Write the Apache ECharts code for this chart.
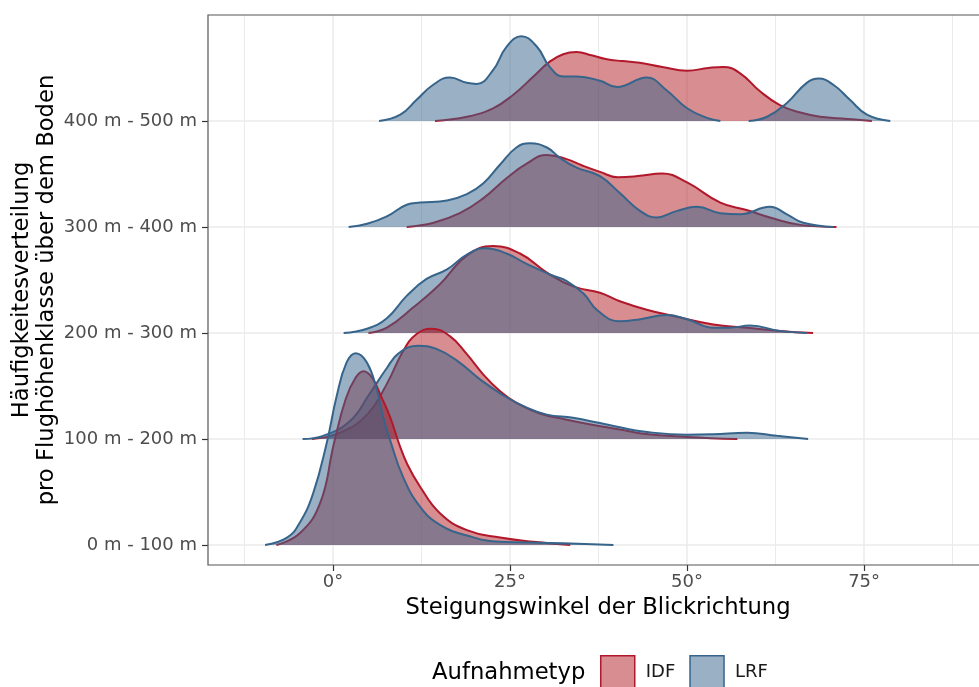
<!DOCTYPE html>
<html><head><meta charset="utf-8">
<script src="https://cdn.jsdelivr.net/npm/echarts@6/dist/echarts.min.js"></script>
<style>html,body{margin:0;padding:0;background:#fff}#c{width:979px;height:687px}</style>
</head><body><div id="c"></div>
<script>
// Ridge categories (bottom to top)
const categories = ['0 m - 100 m', '100 m - 200 m', '200 m - 300 m', '300 m - 400 m', '400 m - 500 m'];
const xTicks = [0, 25, 50, 75];
const xMinorTicks = [-12.5, 12.5, 37.5, 62.5, 87.5];
const seriesNames = ['IDF', 'LRF'];

// [angle in degrees, ridge height (1 = spacing between ridges)]
const idf_0_100 = [[-8,0],[-4.7,0.11],[-1.8,0.40],[0.1,0.95],[1.8,1.38],[3.2,1.58],[4.3,1.64],[5.5,1.58],[6.8,1.40],[8.1,1.20],[9.3,0.96],[10.5,0.76],[12.3,0.55],[15.1,0.30],[18.9,0.14],[23.6,0.07],[28.3,0.03],[33.5,0]];
const lrf_0_100 = [[-9.6,0],[-6.5,0.07],[-4.7,0.21],[-2.8,0.49],[-0.9,0.96],[0.5,1.40],[1.9,1.72],[3.2,1.81],[4.8,1.72],[6.2,1.46],[7.1,1.20],[8.1,0.98],[9.9,0.64],[12.3,0.36],[15.1,0.19],[18.9,0.09],[23.6,0.03],[30.6,0.02],[39.6,0]];
const idf_100_200 = [[-3.0,0],[1.0,0.06],[4.8,0.23],[7.6,0.52],[9.9,0.83],[11.8,0.99],[13.9,1.04],[16.5,0.97],[18.9,0.80],[21.2,0.61],[23.6,0.45],[25.9,0.34],[29.2,0.24],[32.5,0.19],[36.2,0.14],[40.5,0.09],[43.8,0.05],[50,0.02],[57.1,0]];
const lrf_100_200 = [[-4.3,0],[-1.4,0.03],[2.4,0.17],[5.1,0.42],[7.6,0.67],[9.3,0.81],[12.0,0.88],[14.6,0.85],[17.5,0.74],[20.8,0.56],[24.1,0.41],[26.9,0.31],[30.2,0.23],[33.9,0.20],[37.7,0.15],[40.5,0.11],[43.8,0.07],[50,0.04],[53.7,0.045],[58.5,0.06],[62.7,0.03],[67.1,0]];
const idf_200_300 = [[5,0],[7.6,0.05],[11.3,0.24],[15.1,0.46],[18.9,0.73],[22.6,0.82],[26.4,0.75],[30.2,0.57],[33.9,0.44],[37.7,0.38],[40.5,0.30],[44.3,0.22],[48.1,0.16],[53.7,0.08],[58.4,0.05],[63.1,0.02],[67.8,0]];
const lrf_200_300 = [[1.5,0],[4.8,0.04],[7.6,0.14],[10.4,0.35],[13.2,0.51],[16.1,0.60],[18.9,0.74],[21.5,0.80],[24.5,0.75],[27.4,0.65],[31.1,0.54],[33,0.49],[35.4,0.37],[37.4,0.21],[40.5,0.11],[43.4,0.13],[47.1,0.17],[50,0.13],[53.7,0.05],[56,0.05],[58.9,0.07],[63.1,0.02],[66.9,0]];
const idf_300_400 = [[10.4,0],[14.2,0.04],[17.9,0.13],[21.2,0.27],[24.5,0.46],[27.4,0.60],[30.2,0.68],[33,0.64],[35.2,0.58],[37.7,0.52],[40.2,0.47],[43,0.48],[46.5,0.505],[50,0.42],[54.7,0.23],[58.4,0.16],[62.2,0.08],[66,0.02],[71.1,0]];
const lrf_300_400 = [[2.2,0],[4.8,0.03],[7.6,0.10],[10.4,0.21],[12.3,0.23],[16.1,0.25],[18.9,0.31],[21.2,0.41],[23.6,0.59],[25.9,0.75],[27.8,0.79],[30.2,0.75],[32.1,0.65],[34.4,0.56],[37.7,0.48],[40.5,0.32],[43.4,0.15],[45.7,0.09],[48.5,0.15],[51.4,0.19],[54.7,0.13],[57.5,0.12],[61.7,0.19],[64.1,0.12],[66.4,0.04],[70.7,0]];
const idf_400_500 = [[14.4,0],[18.9,0.04],[22.6,0.12],[25.5,0.25],[28.3,0.42],[30.6,0.56],[32.5,0.63],[34.4,0.65],[36.5,0.62],[38.5,0.585],[40.8,0.565],[43.3,0.55],[46.5,0.51],[50,0.475],[53,0.50],[55.1,0.51],[57.5,0.45],[60.3,0.28],[63.1,0.15],[66,0.08],[68.8,0.04],[72.6,0.02],[76.1,0]];
const lrf_400_500 = [[6.5,0],[9.5,0.06],[11.8,0.20],[14.1,0.34],[16.5,0.41],[18.9,0.36],[20.3,0.35],[22.6,0.48],[24.5,0.70],[26.6,0.80],[28.8,0.70],[30.6,0.51],[32.5,0.42],[34.4,0.42],[37.7,0.38],[40.1,0.32],[44.3,0.41],[47.1,0.29],[50,0.12],[52.8,0.03],[54.7,0],null,[58.7,0],[61.3,0.04],[64.1,0.17],[66.9,0.36],[68.6,0.40],[70.7,0.34],[73,0.20],[75.4,0.06],[78.7,0]];

const idfRidges = [idf_0_100, idf_100_200, idf_200_300, idf_300_400, idf_400_500];
const lrfRidges = [lrf_0_100, lrf_100_200, lrf_200_300, lrf_300_400, lrf_400_500];

const FONT = 'DejaVu Sans';
const colIDF = {line: '#B2182B', fill: 'rgba(178,28,36,0.5)'};
const colLRF = {line: '#36648B', fill: 'rgba(54,100,139,0.5)'};

function ridgeSeries(name, arr, k, col, z) {
  return {
    type: 'line', name: name, xAxisIndex: 0, yAxisIndex: 0,
    data: arr.map(p => p === null ? ['-', '-'] : [p[0], k + p[1]]),
    smooth: 0.45, showSymbol: false, symbol: 'none',
    connectNulls: false, silent: true, z: z,
    color: col.line,
    lineStyle: {color: col.line, width: 2},
    areaStyle: {color: col.fill, opacity: 1, origin: k},
    itemStyle: {color: col.fill, borderColor: col.line}
  };
}

const series = [];
let z = 2;
for (let k = categories.length - 1; k >= 0; k--) {
  series.push(ridgeSeries(seriesNames[0], idfRidges[k], k, colIDF, z++));
  series.push(ridgeSeries(seriesNames[1], lrfRidges[k], k, colLRF, z++));
}

const chart = echarts.init(document.getElementById('c'), null, {renderer: 'canvas'});
chart.setOption({
  animation: false,
  backgroundColor: '#fff',
  textStyle: {fontFamily: FONT},
  grid: {left: 208, top: 15, right: -9, bottom: 122, outerBoundsMode: 'none', containLabel: false,
         show: true, borderColor: '#555', borderWidth: 1.2, backgroundColor: 'transparent', z: 20},
  xAxis: [{
    type: 'value', min: -17.66, max: 92.5, position: 'bottom',
    name: 'Steigungswinkel der Blickrichtung', nameLocation: 'middle', nameGap: 32, nameMoveOverlap: false,
    nameTextStyle: {fontSize: 22.7, color: '#000', fontFamily: FONT},
    axisLine: {show: false, onZero: false},
    axisTick: {show: true, customValues: xTicks, length: 6, lineStyle: {color: '#333', width: 1.2}},
    axisLabel: {customValues: xTicks, formatter: v => v + '°', fontSize: 18, color: '#4D4D4D', margin: 8, fontFamily: FONT},
    splitLine: {show: true, lineStyle: {color: '#EBEBEB', width: 1.5}}
  }, {
    type: 'value', min: -17.66, max: 92.5, position: 'bottom',
    axisLine: {show: false, onZero: false},
    axisTick: {show: false, customValues: xMinorTicks},
    axisLabel: {show: false},
    splitLine: {show: true, lineStyle: {color: '#EBEBEB', width: 1}}
  }],
  yAxis: [{
    type: 'value', min: -0.1887, max: 5.0,
    name: 'Häufigkeitesverteilung\npro Flughöhenklasse über dem Boden',
    nameLocation: 'middle', nameGap: 148, nameMoveOverlap: false,
    nameTextStyle: {fontSize: 22.7, color: '#000', lineHeight: 25, fontFamily: FONT},
    axisLine: {show: false, onZero: false},
    axisTick: {show: true, customValues: [0,1,2,3,4], length: 6, lineStyle: {color: '#333', width: 1.2}},
    axisLabel: {customValues: [0,1,2,3,4], formatter: v => categories[Math.round(v)], fontSize: 18, color: '#4D4D4D', margin: 11, fontFamily: FONT},
    splitLine: {show: true, lineStyle: {color: '#EBEBEB', width: 1.5}}
  }],
  legend: {
    left: 600, top: 655, orient: 'horizontal', padding: 0,
    itemWidth: 34, itemHeight: 34, itemGap: 14, selectedMode: false,
    textStyle: {fontSize: 18, color: '#1A1A1A', fontFamily: FONT, padding: [0, 0, 0, 6]},
    data: [
      {name: 'IDF', icon: 'rect', itemStyle: {color: colIDF.fill, borderColor: colIDF.line, borderWidth: 1.5}},
      {name: 'LRF', icon: 'rect', itemStyle: {color: colLRF.fill, borderColor: colLRF.line, borderWidth: 1.5}}
    ]
  },
  graphic: [{
    type: 'text', left: 432, top: 662,
    style: {text: 'Aufnahmetyp', font: '22.7px "DejaVu Sans"', fill: '#000'}
  }],
  series: series
});
</script>
</body></html>
